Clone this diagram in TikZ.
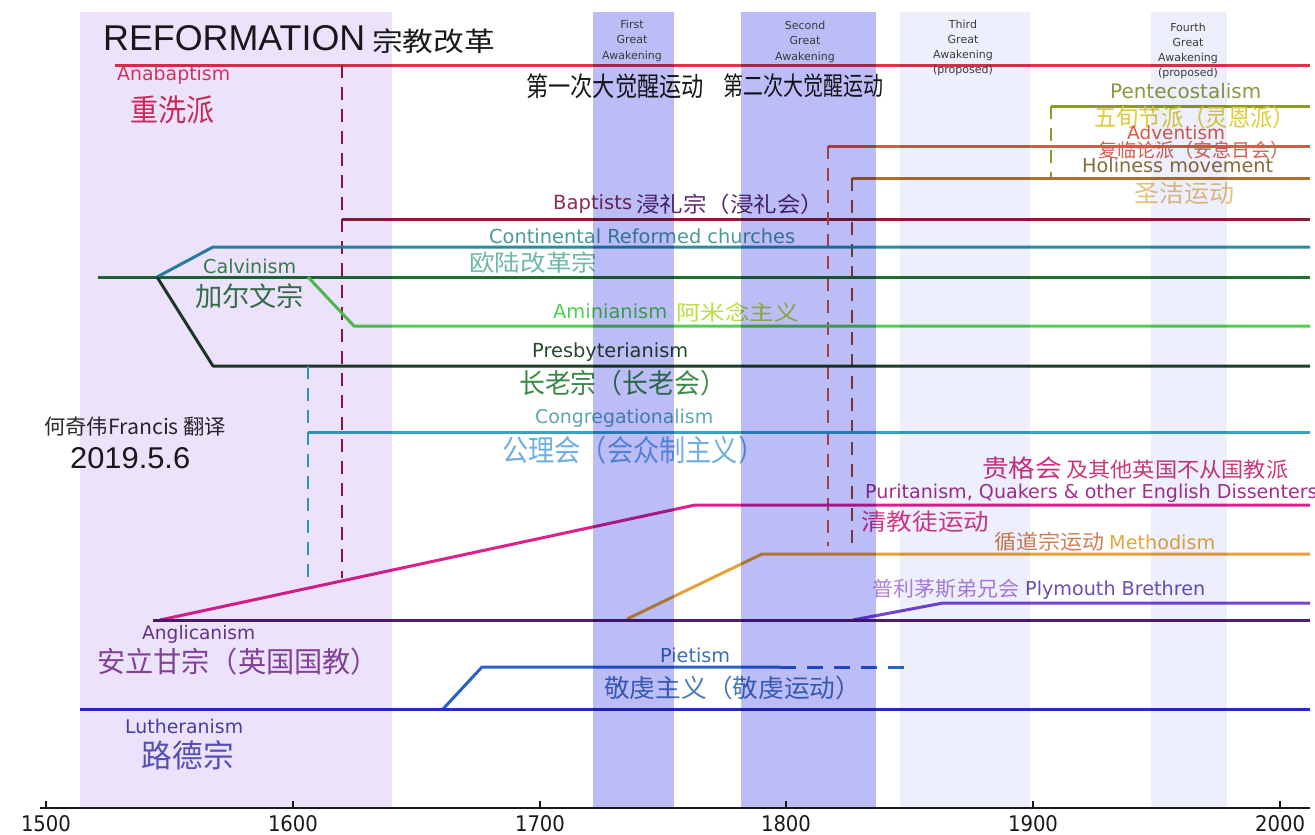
\documentclass[tikz,border=0pt]{standalone}
\usepackage{fontspec}
\usepackage{graphicx}
\setmainfont{DejaVu Sans}
\newfontfamily\cjk{Noto Sans CJK SC}
\newfontfamily\arial{Liberation Sans}
\newcommand{\lw}[2]{\resizebox{#1pt}{!}{#2}}
\newcommand{\cw}[3]{\resizebox*{#1pt}{#2pt}{\cjk #3}}
\definecolor{bandR}{HTML}{EDE2FB}
\definecolor{bandA}{HTML}{BCBCF6}
\definecolor{bandL}{HTML}{EEEFFC}
\definecolor{anab}{HTML}{E8304A}
\definecolor{bapt}{HTML}{8C1C34}
\definecolor{pent}{HTML}{8E9C24}
\definecolor{advt}{HTML}{E25444}
\definecolor{holi}{HTML}{B0702C}
\definecolor{holid}{HTML}{9A4A3A}
\definecolor{cont}{HTML}{2A8CA0}
\definecolor{calv}{HTML}{1E6E34}
\definecolor{pres}{HTML}{1E3E28}
\definecolor{armi}{HTML}{50D050}
\definecolor{cong}{HTML}{34A4C0}
\definecolor{puri}{HTML}{E0208A}
\definecolor{meth}{HTML}{E8A038}
\definecolor{plym}{HTML}{7444D4}
\definecolor{angl}{HTML}{4E1E6E}
\definecolor{piet}{HTML}{2A62C8}
\definecolor{luth}{HTML}{2A2ABA}
\definecolor{ttitle}{HTML}{1A1A1A}
\definecolor{awt}{HTML}{3A3A3A}
\definecolor{tnote}{HTML}{2A2A2A}
\definecolor{tanab}{HTML}{D8405E}
\definecolor{tanabzh}{HTML}{D83058}
\definecolor{tpent}{HTML}{8A9A40}
\definecolor{tpentzh}{HTML}{DCCC38}
\definecolor{tadvt}{HTML}{D85A48}
\definecolor{tadvtzh}{HTML}{D86050}
\definecolor{tholi}{HTML}{8A6A3A}
\definecolor{tholizh}{HTML}{E8C07E}
\definecolor{tbapt}{HTML}{8A3050}
\definecolor{tbaptzh}{HTML}{5A2A6A}
\definecolor{tcont}{HTML}{4A9A9A}
\definecolor{tcontzh}{HTML}{70B8A8}
\definecolor{tcalv}{HTML}{3A8A4A}
\definecolor{tcalvzh}{HTML}{3A7A4A}
\definecolor{tarmi}{HTML}{50D050}
\definecolor{tarmizh}{HTML}{B8E040}
\definecolor{tpres}{HTML}{2A4A2A}
\definecolor{tpreszh}{HTML}{3A8A4A}
\definecolor{tcong}{HTML}{5AA8B0}
\definecolor{tcongzh}{HTML}{70B0E0}
\definecolor{tquak}{HTML}{D03080}
\definecolor{tquaktwo}{HTML}{C83878}
\definecolor{tpuri}{HTML}{A03090}
\definecolor{tpurizh}{HTML}{D83A88}
\definecolor{tmethzh}{HTML}{D08050}
\definecolor{tmeth}{HTML}{E0A840}
\definecolor{tplymzh}{HTML}{B080E0}
\definecolor{tplym}{HTML}{6A50B0}
\definecolor{tangl}{HTML}{6A3A8A}
\definecolor{tanglzh}{HTML}{8A4A9A}
\definecolor{tpiet}{HTML}{3A70B0}
\definecolor{tpietzh}{HTML}{4A7AB8}
\definecolor{tluth}{HTML}{4A4AA0}
\definecolor{tluthzh}{HTML}{5A5AB8}
\begin{document}
\begin{tikzpicture}[x=1pt,y=-1pt,
  lat/.style={anchor=base west,inner sep=0pt},
  cjn/.style={anchor=west,inner sep=0pt},
  br/.style={line width=3pt,line join=round},
  vd/.style={line width=2.9pt,dash pattern=on 13pt off 9pt},
  aw/.style={anchor=base,inner sep=0pt,text=awt,font=\fontsize{11}{12}\selectfont},
  yrlab/.style={anchor=base,inner sep=0pt,text=ttitle}]
\useasboundingbox (0,0) rectangle (1315,835);
\fill[white] (0,0) rectangle (1315,835);
\clip (0,0) rectangle (1315,835);

% branch points
\coordinate (calvB) at (157,277);
\coordinate (armiB) at (308,277);
\coordinate (baptB) at (342,219);
\coordinate (congB) at (308,432);

% lines
\draw[br,anab] (115,65) -- (1310,65);
\draw[vd,bapt] (342,65) -- (342,578);
\draw[br,bapt] (baptB) -- (1310,219);
\draw[vd,pent] (1051,106) -- (1051,178);
\draw[br,pent] (1051,106) -- (1310,106);
\draw[vd,advt] (828,146) -- (828,546);
\draw[br,advt] (828,146) -- (1310,146);
\draw[vd,holid] (852,178) -- (852,551);
\draw[br,holi] (852,178) -- (1310,178);
\draw[br,calv] (98,277) -- (1310,277);
\draw[br,cont] (calvB) -- (213,247) -- (1310,247);
\draw[br,pres] (calvB) -- (213,366) -- (1310,366);
\draw[br,armi] (armiB) -- (354,326) -- (1310,326);
\draw[vd,cong] (308,366) -- (308,580);
\draw[br,cong] (congB) -- (1310,432);
\draw[br,puri] (160,620) -- (695,505) -- (1310,505);
\draw[br,meth] (627,619) -- (762,554) -- (1310,554);
\draw[br,plym] (853,620) -- (943,603) -- (1310,603);
\draw[br,angl] (153,620) -- (1310,620);
\draw[br,piet] (443,709) -- (482,667) -- (780,667);
\draw[br,piet,dash pattern=on 16pt off 11pt] (780,667) -- (905,667);
\draw[br,luth] (80,709) -- (1310,709);

% labels
\node[lat,text=ttitle] (title) at (103,50) {\resizebox{262pt}{25pt}{\arial REFORMATION}};
\node[cjn,text=ttitle] (titlezh) at (372,41) {\cw{123}{25}{宗教改革}};
\node[lat,text=tanab] (anab) at (117,80) {\lw{113}{Anabaptism}};
\node[cjn,text=tanabzh] (anabzh) at (130.5,109.5) {\cw{84}{28.4}{重洗派}};
\node[cjn,text=ttitle] (ga1zh) at (526,86) {\cw{178}{25}{第一次大觉醒运动}};
\node[cjn,text=ttitle] (ga2zh) at (723,86) {\cw{160}{24}{第二次大觉醒运动}};

\node[lat,text=tpent] (pent) at (1110,98) {\lw{151}{Pentecostalism}};
\node[cjn,text=tpentzh] (pentzh) at (1094,117) {\cw{201}{22.7}{五旬节派（灵恩派）}};
\node[lat,text=tadvt] (advt) at (1127,139) {\lw{98}{Adventism}};
\node[cjn,text=tadvtzh] (advtzh) at (1098,150) {\cw{191}{18.2}{复临论派（安息日会）}};
\node[lat,text=tholi] (holi) at (1082,172) {\lw{191}{Holiness movement}};
\node[cjn,text=tholizh] (holizh) at (1134,193) {\cw{100}{22.7}{圣洁运动}};
\node[lat,text=tbapt] (bapt) at (553,209) {\lw{79}{Baptists}};
\node[cjn,text=tbaptzh] (baptzh) at (636,204) {\cw{188}{20.5}{浸礼宗（浸礼会）}};
\node[lat,text=tcont] (cont) at (489,243) {\lw{306}{Continental Reformed churches}};
\node[cjn,text=tcontzh] (contzh) at (469,262.5) {\cw{128}{21.6}{欧陆改革宗}};
\node[lat,text=tcalv] (calv) at (203,273) {\lw{93}{Calvinism}};
\node[cjn,text=tcalvzh] (calvzh) at (195,296) {\cw{109}{25}{加尔文宗}};
\node[lat,text=tarmi] (armi) at (553,318) {\lw{114}{Aminianism}};
\node[cjn,text=tarmizh] (armizh) at (676,312) {\cw{122.5}{19.5}{阿米念主义}};
\node[lat,text=tpres] (pres) at (532,357) {\lw{156}{Presbyterianism}};
\node[cjn,text=tpreszh] (preszh) at (519,383.5) {\cw{207}{26}{长老宗（长老会）}};
\node[lat,text=tcong] (cong) at (535,423) {\lw{178}{Congregationalism}};
\node[cjn,text=tcongzh] (congzh) at (502,450.5) {\cw{262}{28.4}{公理会（会众制主义）}};
\node[cjn,text=tnote] (note) at (44,427) {\cw{182}{19.3}{何奇伟Francis 翻译}};
\node[lat,text=ttitle] (date) at (70,468) {\resizebox{120pt}{21pt}{\arial 2019.5.6}};
\node[cjn,text=tquak] (quak) at (982,468) {\cw{80}{22.7}{贵格会}};
\node[cjn,text=tquaktwo] (quaktwo) at (1066,469.5) {\cw{222}{19.3}{及其他英国不从国教派}};
\node[lat,text=tpuri,font=\fontsize{19.1}{20}\selectfont] (puri) at (865,498) {Puritanism, Quakers \& other English Dissenters};
\node[cjn,text=tpurizh] (purizh) at (861,521.5) {\cw{128}{21.6}{清教徒运动}};
\node[cjn,text=tmethzh] (methzh) at (994,541.5) {\cw{110}{19.3}{循道宗运动}};
\node[lat,text=tmeth] (meth) at (1109,549) {\lw{106}{Methodism}};
\node[cjn,text=tplymzh] (plymzh) at (872,588.5) {\cw{147}{19.3}{普利茅斯弟兄会}};
\node[lat,text=tplym] (plym) at (1025,595) {\lw{180}{Plymouth Brethren}};
\node[lat,text=tangl] (angl) at (142,639) {\lw{113}{Anglicanism}};
\node[cjn,text=tanglzh] (anglzh) at (97,662) {\cw{282}{27.3}{安立甘宗（英国国教）}};
\node[lat,text=tpiet] (piet) at (660,662) {\lw{70}{Pietism}};
\node[cjn,text=tpietzh] (pietzh) at (604,687.5) {\cw{257}{23.9}{敬虔主义（敬虔运动）}};
\node[lat,text=tluth] (luth) at (125,733) {\lw{118}{Lutheranism}};
\node[cjn,text=tluthzh] (luthzh) at (141.5,755) {\cw{92}{29.5}{路德宗}};

% period bands (overlay)
\begin{scope}[blend mode=multiply]
\fill[bandR] (80,12) rectangle (392,808);
\fill[bandA] (593,12) rectangle (674,808);
\fill[bandA] (741,12) rectangle (876,808);
\fill[bandL] (900,12) rectangle (1030,808);
\fill[bandL] (1151,12) rectangle (1227,808);
\end{scope}

% awakening labels
\foreach \t [count=\i] in {First,Great,Awakening}
  \node[aw] (fa\i) at (632,{28+15.5*(\i-1)}) {\t};
\foreach \t [count=\i] in {Second,Great,Awakening}
  \node[aw] (sa\i) at (805,{29+15.5*(\i-1)}) {\t};
\foreach \t [count=\i] in {Third,Great,Awakening,(proposed)}
  \node[aw] (ta\i) at (963,{28+15*(\i-1)}) {\t};
\foreach \t [count=\i] in {Fourth,Great,Awakening,(proposed)}
  \node[aw] (qa\i) at (1188,{31+15*(\i-1)}) {\t};

% axis
\draw[line width=2pt,ttitle] (40,808) -- (1310,808);
\foreach \yy/\xx in {1500/46,1600/293,1700/540,1800/786,1900/1033,2000/1280}{
  \draw[line width=1.6pt,ttitle] (\xx,801) -- (\xx,808);
  \node[yrlab] (y\yy) at (\xx,831) {\resizebox{50pt}{16pt}{\yy}};
}
\end{tikzpicture}
\end{document}
